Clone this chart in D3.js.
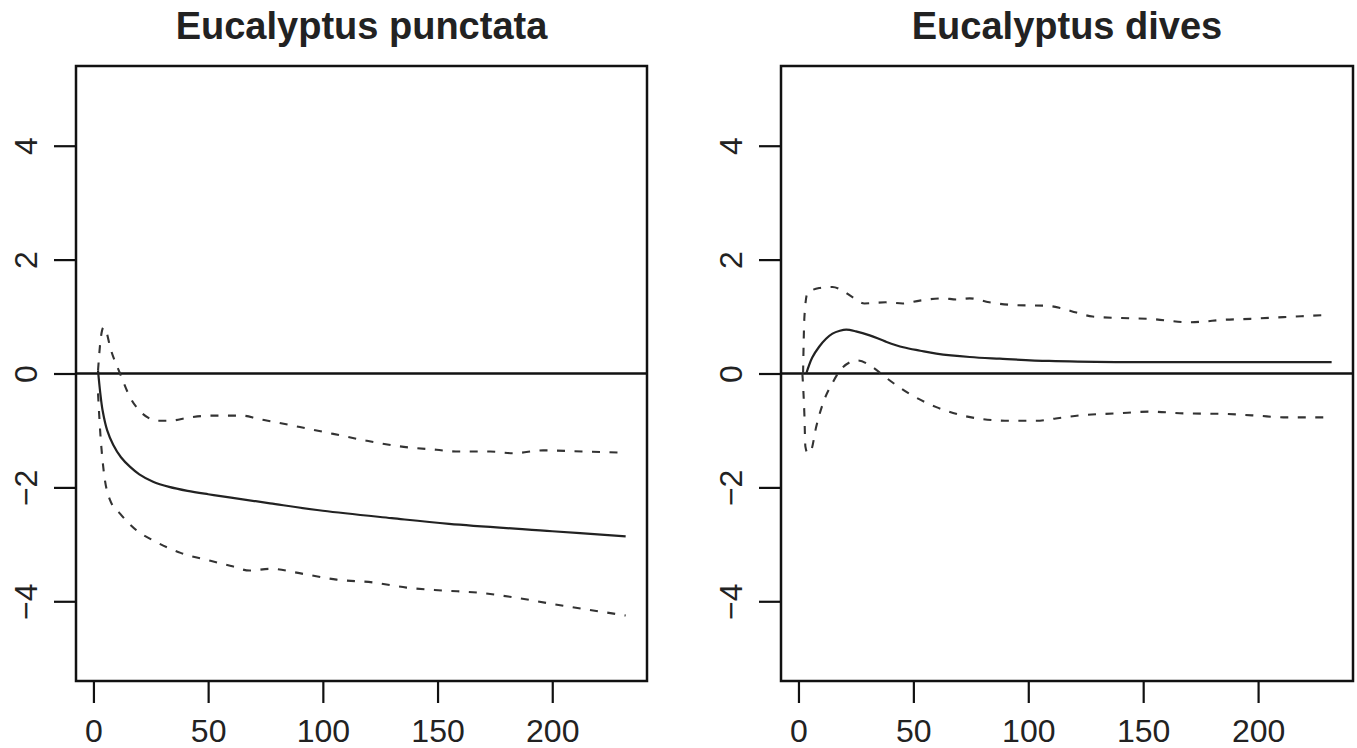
<!DOCTYPE html>
<html>
<head>
<meta charset="utf-8">
<script src="https://cdn.jsdelivr.net/npm/d3@7"></script>
<style>
  body { margin: 0; background: #fff; }
  svg text { font-family: "Liberation Sans", Arial, sans-serif; fill: #222; }
</style>
</head>
<body>
<svg id="chart" width="1357" height="748"></svg>
<script>
// panel titles
var titles = ["Eucalyptus punctata", "Eucalyptus dives"];

var xTicks = [0, 50, 100, 150, 200];
var yTicks = [-4, -2, 0, 2, 4];

// Eucalyptus punctata  [time, value]
var punctMean = [[2,0.05],[3,-0.35],[4,-0.65],[6,-1.0],[8.6,-1.25],[12,-1.47],[16,-1.64],[20,-1.77],[26,-1.9],[33,-1.99],[41,-2.06],[50,-2.12],[60,-2.18],[77,-2.28],[100,-2.41],[130,-2.54],[155,-2.64],[200,-2.77],[232,-2.86]];
var punctUpper = [[2,0.05],[3,0.55],[4.4,0.81],[5.5,0.75],[7.3,0.46],[11.6,0],[16,-0.42],[20,-0.65],[24,-0.78],[27.6,-0.83],[33,-0.83],[42,-0.77],[51,-0.74],[65,-0.74],[72,-0.8],[76,-0.83],[90,-0.94],[104.5,-1.06],[119,-1.18],[133.6,-1.28],[149.6,-1.34],[158,-1.37],[173,-1.37],[183,-1.4],[196,-1.35],[213,-1.37],[232,-1.39]];
var punctLower = [[2,-0.35],[3,-1.05],[4.3,-1.65],[7.3,-2.23],[11.6,-2.46],[19,-2.76],[26,-2.93],[38,-3.15],[51,-3.29],[60,-3.38],[68,-3.46],[77,-3.43],[91.5,-3.52],[106,-3.62],[122,-3.67],[136.5,-3.76],[152,-3.81],[168,-3.85],[184.6,-3.94],[199,-4.04],[213,-4.13],[232,-4.25]];

// Eucalyptus dives  [time, value]
var divesMean = [[3.4,0],[6,0.28],[9,0.47],[12,0.61],[14.8,0.7],[18,0.75],[20.8,0.77],[25,0.74],[31,0.67],[38,0.56],[45.6,0.46],[53,0.4],[60,0.35],[74.5,0.29],[87.6,0.26],[109,0.22],[138,0.2],[180,0.2],[232,0.2]];
var divesUpper = [[2,0],[2.6,1.0],[3.9,1.41],[9,1.5],[14.8,1.52],[19,1.46],[23.5,1.34],[28.7,1.23],[38,1.25],[45.4,1.23],[52.8,1.28],[63,1.32],[68.7,1.3],[74.5,1.32],[83,1.25],[94.9,1.2],[108,1.19],[114,1.15],[121,1.07],[128,1.0],[144,0.97],[153,0.96],[160,0.93],[169,0.9],[176,0.91],[183.6,0.94],[196.6,0.96],[211,0.99],[231.5,1.03]];
var divesLower = [[1.7,0],[2.6,-0.75],[3,-1.28],[4,-1.4],[5.5,-1.35],[7.7,-0.94],[10.6,-0.53],[15,-0.15],[19.3,0.11],[25.8,0.23],[32.3,0.11],[38,-0.07],[48.4,-0.36],[60,-0.59],[71.6,-0.74],[80,-0.8],[92,-0.83],[103.6,-0.83],[112,-0.79],[124,-0.73],[138.5,-0.7],[153,-0.67],[167.6,-0.7],[185,-0.71],[199.6,-0.74],[211,-0.77],[230,-0.77]];

var panels = [
  {title: titles[0], left: 76, right: 647, mean: punctMean, upper: punctUpper, lower: punctLower},
  {title: titles[1], left: 781, right: 1353, mean: divesMean, upper: divesUpper, lower: divesLower}
];

var plotTop = 66, plotBottom = 681;
var svg = d3.select("#chart");

var y = d3.scaleLinear().domain([-5.4, 5.4]).range([plotBottom, plotTop]);

panels.forEach(function(p) {
  var x = d3.scaleLinear().domain([-7.6, 241.3]).range([p.left, p.right]);
  var g = svg.append("g");

  var dashLine = d3.line()
    .x(function(d) { return x(d[0]); })
    .y(function(d) { return y(d[1]); })
    .curve(d3.curveMonotoneX);
  var meanLine = d3.line()
    .x(function(d) { return x(d[0]); })
    .y(function(d) { return y(d[1]); })
    .curve(d3.curveCatmullRom.alpha(0.5));

  // zero reference line
  g.append("line")
    .attr("x1", p.left).attr("x2", p.right)
    .attr("y1", y(0)).attr("y2", y(0))
    .attr("stroke", "#111").attr("stroke-width", 2.4);

  [p.upper, p.lower].forEach(function(s) {
    g.append("path").datum(s)
      .attr("d", dashLine)
      .attr("fill", "none")
      .attr("stroke", "#333")
      .attr("stroke-width", 2.1)
      .attr("stroke-dasharray", "8,9.5");
  });

  g.append("path").datum(p.mean)
    .attr("d", meanLine)
    .attr("fill", "none")
    .attr("stroke", "#222")
    .attr("stroke-width", 2.2);

  // axes
  var xa = g.append("g")
    .attr("transform", "translate(0," + plotBottom + ")")
    .call(d3.axisBottom(x).tickValues(xTicks).tickSize(22).tickSizeOuter(0).tickPadding(16));
  xa.select(".domain").remove();
  xa.selectAll("line").attr("stroke", "#111").attr("stroke-width", 2.2);
  xa.selectAll("text").attr("font-size", 32).attr("fill", "#222")
    .attr("dy", "0.71em");

  var ya = g.append("g")
    .attr("transform", "translate(" + p.left + ",0)")
    .call(d3.axisLeft(y).tickValues(yTicks).tickSize(22).tickSizeOuter(0).tickFormat(function(d) { return d < 0 ? "\u2212" + Math.abs(d) : d; }));
  ya.select(".domain").remove();
  ya.selectAll("line").attr("stroke", "#111").attr("stroke-width", 2.2);
  ya.selectAll("text")
    .attr("font-size", 32).attr("fill", "#222")
    .attr("x", null).attr("dy", null)
    .attr("text-anchor", "middle")
    .attr("transform", "translate(-39,0) rotate(-90)");

  // box
  g.append("rect")
    .attr("x", p.left).attr("y", plotTop)
    .attr("width", p.right - p.left).attr("height", plotBottom - plotTop)
    .attr("fill", "none").attr("stroke", "#111").attr("stroke-width", 2.5);

  g.append("text")
    .attr("x", (p.left + p.right) / 2).attr("y", 39)
    .attr("text-anchor", "middle")
    .attr("font-size", 38).attr("font-weight", "bold")
    .text(p.title);
});
</script>
</body>
</html>
